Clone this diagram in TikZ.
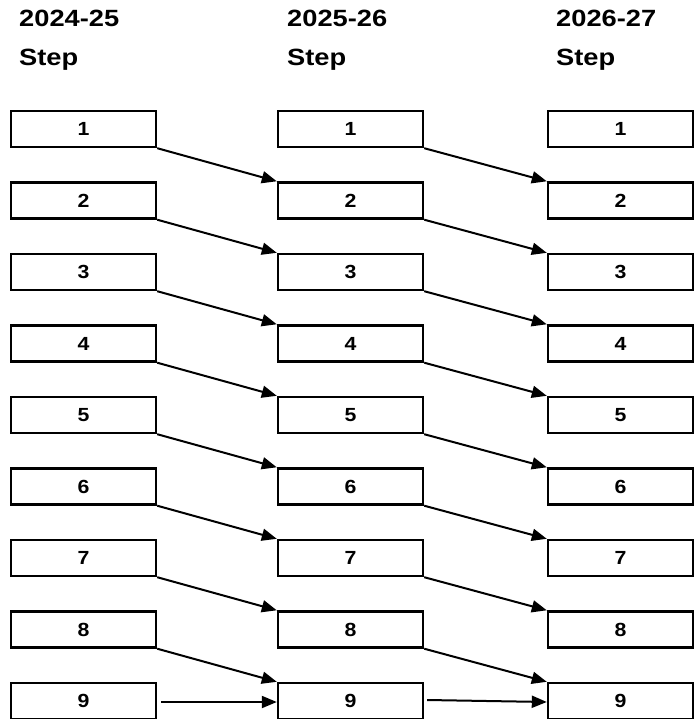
\documentclass[tikz,border=0pt]{standalone}
\usepackage{fontspec}
\setmainfont{Liberation Sans}
\newfontfamily\headfont[FakeStretch=1.16]{Liberation Sans}
\newfontfamily\numfont[FakeStretch=1.12]{Liberation Sans}
\usepackage{tikz}
\usetikzlibrary{arrows.meta, positioning, calc}

\tikzset{
  stepbox/.style={draw, line width=2.4pt, minimum width=145pt,
                  minimum height=36pt, inner sep=0pt,
                  font=\numfont\fontsize{19}{22}\selectfont\bfseries},
  yearlabel/.style={anchor=base west, inner sep=0pt,
                    font=\headfont\fontsize{23.5}{28}\selectfont\bfseries},
  moveline/.style={-{Triangle[length=15pt, width=12pt]}, line width=2pt}
}

\begin{document}
\begin{tikzpicture}[x=1pt, y=-1pt]
  \clip (0,0) rectangle (695,719);
  % ── Column headings ──
  \foreach \col/\xx/\yr in {a/19/2024-25, b/287/2025-26, c/556/2026-27} {
    \node[yearlabel] (\col yr) at (\xx,27) {\yr};
    \node[yearlabel] (\col st) at (\xx,65.5) {Step};
  }
  % ── Step boxes ──
  \foreach \k in {1,...,9} {
    \node[stepbox] (a\k) at (83.5, {129+(\k-1)*71.5}) {\k};
    \node[stepbox] (b\k) at (350.5,{129+(\k-1)*71.5}) {\k};
    \node[stepbox] (c\k) at (620.5,{129+(\k-1)*71.5}) {\k};
  }
  % ── Moves to the next step ──
  \foreach \k [evaluate=\k as \n using int(\k+1)] in {1,...,8} {
    \draw[moveline] (a\k.south east) -- (b\n.north west);
    \draw[moveline] (b\k.south east) -- (c\n.north west);
  }
  % ── Top step stays ──
  \draw[moveline] ([xshift=4pt, yshift=-1pt]a9.east) -- ([yshift=-1pt]b9.west);
  \draw[moveline] ([xshift=3pt, yshift=1pt]b9.east) -- ([yshift=-1pt]c9.west);
\end{tikzpicture}
\end{document}
